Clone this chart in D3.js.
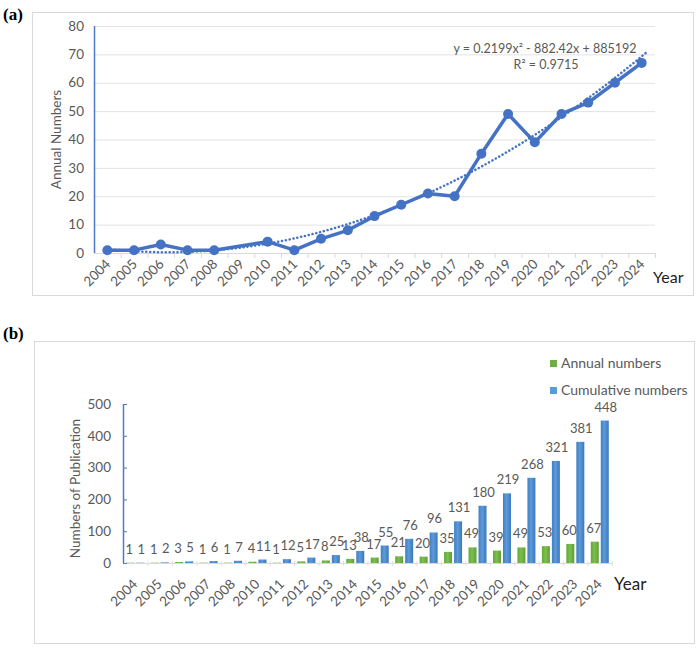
<!DOCTYPE html>
<html>
<head>
<meta charset="utf-8">
<script src="https://cdn.jsdelivr.net/npm/d3@7"></script>
<style>
  html, body { margin: 0; padding: 0; background: #fff; }
  svg { display: block; font-family: Lato, "Open Sans", sans-serif; }
</style>
</head>
<body>
<svg id="chart" width="700" height="650"></svg>
<script>
// ---------- Data ----------
const yearsA = ["2004","2005","2006","2007","2008","2009","2010","2011","2012","2013","2014","2015","2016","2017","2018","2019","2020","2021","2022","2023","2024"];
const annualA = [1,1,3,1,1,null,4,1,5,8,13,17,21,20,35,49,39,49,53,60,67];
const yTicksA = [0,10,20,30,40,50,60,70,80];
const trendEquation = "y = 0.2199x² - 882.42x + 885192";
const trendR2 = "R² = 0.9715";

const yearsB = ["2004","2005","2006","2007","2008","2010","2011","2012","2013","2014","2015","2016","2017","2018","2019","2020","2021","2022","2023","2024"];
const annualB = [1,1,3,1,1,4,1,5,8,13,17,21,20,35,49,39,49,53,60,67];
const cumulativeB = [1,2,5,6,7,11,12,17,25,38,55,76,96,131,180,219,268,321,381,448];
const yTicksB = [0,100,200,300,400,500];
const legendLabels = ["Annual numbers","Cumulative numbers"];

const svg = d3.select("#chart");
const gray = "#595959";
const blue = "#4472c4";

// ---------- Panel labels ----------
svg.append("text").attr("x", 3).attr("y", 20).text("(a)")
  .attr("font-family", "'Liberation Serif', 'Times New Roman', serif").attr("font-weight", "bold").attr("font-size", 17);
svg.append("text").attr("x", 3).attr("y", 339).text("(b)")
  .attr("font-family", "'Liberation Serif', 'Times New Roman', serif").attr("font-weight", "bold").attr("font-size", 17);

// ================= Chart (a) =================
svg.append("rect").attr("x", 32.5).attr("y", 12.5).attr("width", 661).attr("height", 283)
  .attr("fill", "none").attr("stroke", "#d9d9d9");

const xA = d3.scaleBand().domain(yearsA).range([94, 655]);
const yA = d3.scaleLinear().domain([0, 80]).range([253, 26]);
const gA = svg.append("g");

// grid
gA.selectAll("line.grid").data(yTicksA.filter(d => d > 0)).join("line")
  .attr("x1", 94).attr("x2", 655).attr("y1", d => yA(d) + 0.5).attr("y2", d => yA(d) + 0.5)
  .attr("stroke", "#e3e3e3").attr("stroke-width", 1);

// x axis baseline + ticks at band edges
gA.append("line").attr("x1", 94).attr("x2", 655).attr("y1", yA(0) + 0.5).attr("y2", yA(0) + 0.5)
  .attr("stroke", "#d9d9d9");
gA.selectAll("line.xt").data(yearsA).join("line")
  .attr("x1", d => xA(d) + xA.bandwidth() + 0.5)
  .attr("x2", d => xA(d) + xA.bandwidth() + 0.5)
  .attr("y1", yA(0)).attr("y2", yA(0) + 5).attr("stroke", "#d9d9d9");

// y axis line
gA.append("line").attr("x1", 94.5).attr("x2", 94.5).attr("y1", yA(80)).attr("y2", yA(0))
  .attr("stroke", "#4f7ac7").attr("stroke-width", 1.5);

// y tick labels
gA.selectAll("text.yt").data(yTicksA).join("text")
  .attr("x", 84).attr("y", d => yA(d)).attr("dy", "0.35em")
  .attr("text-anchor", "end").attr("font-size", 13.5).attr("fill", gray).text(d => d);

// x tick labels
gA.selectAll("text.xl").data(yearsA).join("text")
  .attr("transform", d => `translate(${xA(d) + xA.bandwidth() / 2 + 4},${yA(0) + 12}) rotate(-45)`)
  .attr("text-anchor", "end").attr("font-size", 13.5).attr("fill", gray).text(d => d);

// y title
gA.append("text").attr("transform", `translate(61,${(yA(0) + yA(80)) / 2}) rotate(-90)`)
  .attr("text-anchor", "middle").attr("font-size", 13.5).attr("fill", gray).text("Annual Numbers");

// Year label
gA.append("text").attr("x", 653).attr("y", 283).attr("font-size", 16).attr("fill", "#222").text("Year");

// quadratic trend (least squares fit on years with data)
const pts = yearsA.map((y, i) => [+y, annualA[i]]).filter(p => p[1] != null);
const x0 = 2014;
let S = [0,0,0,0,0], T = [0,0,0];
pts.forEach(([x, y]) => {
  const t = x - x0;
  for (let k = 0; k < 5; k++) S[k] += Math.pow(t, k);
  for (let k = 0; k < 3; k++) T[k] += y * Math.pow(t, k);
});
function solve3(A, b) {
  const M = A.map((r, i) => r.concat([b[i]]));
  for (let c = 0; c < 3; c++) {
    let p = c;
    for (let r = c + 1; r < 3; r++) if (Math.abs(M[r][c]) > Math.abs(M[p][c])) p = r;
    [M[c], M[p]] = [M[p], M[c]];
    for (let r = 0; r < 3; r++) if (r !== c) {
      const f = M[r][c] / M[c][c];
      for (let k = c; k < 4; k++) M[r][k] -= f * M[c][k];
    }
  }
  return M.map((r, i) => r[3] / r[i]);
}
const coef = solve3([[S[0],S[1],S[2]],[S[1],S[2],S[3]],[S[2],S[3],S[4]]], T);
const fitF = x => coef[0] + coef[1] * (x - x0) + coef[2] * (x - x0) * (x - x0);
const xYear = d3.scaleLinear().domain([2004, 2024])
  .range([xA("2004") + xA.bandwidth() / 2, xA("2024") + xA.bandwidth() / 2]);
const trendPts = d3.range(2004, 2024.2001, 0.05).map(x => [x, Math.max(0, fitF(x))]);
svg.append("clipPath").attr("id", "clipA").append("rect")
  .attr("x", 94).attr("y", 20).attr("width", 570).attr("height", yA(0) - 20 + 1);
gA.append("path").datum(trendPts)
  .attr("clip-path", "url(#clipA)")
  .attr("d", d3.line().x(d => xYear(d[0])).y(d => yA(d[1])))
  .attr("fill", "none").attr("stroke", blue).attr("stroke-width", 2.5)
  .attr("stroke-dasharray", "0.1 3.8").attr("stroke-linecap", "round");

// data line (connect across missing 2009)
const dataA = yearsA.map((y, i) => ({ y, v: annualA[i] })).filter(d => d.v != null);
gA.append("path").datum(dataA)
  .attr("d", d3.line().x(d => xA(d.y) + xA.bandwidth() / 2).y(d => yA(d.v)))
  .attr("fill", "none").attr("stroke", blue).attr("stroke-width", 3.5).attr("stroke-linejoin", "round");
gA.selectAll("circle").data(dataA).join("circle")
  .attr("cx", d => xA(d.y) + xA.bandwidth() / 2).attr("cy", d => yA(d.v)).attr("r", 5)
  .attr("fill", blue);

// equation
gA.append("text").attr("x", 545).attr("y", 53).attr("text-anchor", "middle")
  .attr("font-size", 12.5).attr("fill", gray).text(trendEquation);
gA.append("text").attr("x", 546).attr("y", 69).attr("text-anchor", "middle")
  .attr("font-size", 12.5).attr("fill", gray).text(trendR2);

// ================= Chart (b) =================
svg.append("rect").attr("x", 34.5).attr("y", 341.5).attr("width", 660).attr("height", 302)
  .attr("fill", "none").attr("stroke", "#d9d9d9");

const defs = svg.append("defs");
const gb = defs.append("linearGradient").attr("id", "gBlue").attr("x1", 0).attr("x2", 1).attr("y1", 0).attr("y2", 0);
gb.append("stop").attr("offset", "0%").attr("stop-color", "#3f7fc4");
gb.append("stop").attr("offset", "45%").attr("stop-color", "#5d9ad8");
gb.append("stop").attr("offset", "100%").attr("stop-color", "#3a78bf");
const gg = defs.append("linearGradient").attr("id", "gGreen").attr("x1", 0).attr("x2", 1).attr("y1", 0).attr("y2", 0);
gg.append("stop").attr("offset", "0%").attr("stop-color", "#62a83a");
gg.append("stop").attr("offset", "45%").attr("stop-color", "#7cbf4e");
gg.append("stop").attr("offset", "100%").attr("stop-color", "#5e9f35");

const xB = d3.scaleBand().domain(yearsB).range([123, 612]);
const yB = d3.scaleLinear().domain([0, 500]).range([563, 404]);
const gB = svg.append("g");
const barW = 8;

// baseline
gB.append("line").attr("x1", 123).attr("x2", 612).attr("y1", yB(0) + 0.5).attr("y2", yB(0) + 0.5)
  .attr("stroke", "#d9d9d9");
gB.selectAll("line.xt").data(yearsB).join("line")
  .attr("x1", d => xB(d) + xB.bandwidth() + 0.5).attr("x2", d => xB(d) + xB.bandwidth() + 0.5)
  .attr("y1", yB(0) - 2).attr("y2", yB(0) + 3).attr("stroke", "#e0e0e0");

// y axis
gB.append("line").attr("x1", 123.5).attr("x2", 123.5).attr("y1", yB(500)).attr("y2", yB(0))
  .attr("stroke", "#4f7ac7").attr("stroke-width", 1.5);
gB.selectAll("line.yt").data(yTicksB).join("line")
  .attr("x1", 123).attr("x2", 127).attr("y1", d => yB(d) + 0.5).attr("y2", d => yB(d) + 0.5)
  .attr("stroke", "#4f7ac7");
gB.selectAll("text.yt").data(yTicksB).join("text")
  .attr("x", 111).attr("y", d => yB(d)).attr("dy", "0.35em").attr("text-anchor", "end")
  .attr("font-size", 13.5).attr("fill", gray).text(d => d);

gB.append("text").attr("transform", `translate(80,${(yB(0) + yB(500)) / 2 + 5}) rotate(-90)`)
  .attr("text-anchor", "middle").attr("font-size", 13.5).attr("fill", gray).text("Numbers of Publication");

// bars
const cx = d => xB(d) + xB.bandwidth() / 2;
gB.selectAll("rect.ann").data(yearsB).join("rect")
  .attr("x", d => cx(d) - 9).attr("width", barW)
  .attr("y", (d, i) => yB(annualB[i])).attr("height", (d, i) => yB(0) - yB(annualB[i]))
  .attr("fill", "url(#gGreen)");
gB.selectAll("rect.cum").data(yearsB).join("rect")
  .attr("x", d => cx(d) + 1).attr("width", barW)
  .attr("y", (d, i) => yB(cumulativeB[i])).attr("height", (d, i) => yB(0) - yB(cumulativeB[i]))
  .attr("fill", "url(#gBlue)");

// bar labels
gB.selectAll("text.la").data(yearsB).join("text")
  .attr("x", d => cx(d) - 6).attr("y", (d, i) => yB(annualB[i]) - 9)
  .attr("text-anchor", "middle").attr("font-size", 13).attr("fill", gray).text((d, i) => annualB[i]);
gB.selectAll("text.lc").data(yearsB).join("text")
  .attr("x", d => cx(d) + 6).attr("y", (d, i) => yB(cumulativeB[i]) - 9)
  .attr("text-anchor", "middle").attr("font-size", 13).attr("fill", gray).text((d, i) => cumulativeB[i]);

// x labels
gB.selectAll("text.xl").data(yearsB).join("text")
  .attr("transform", d => `translate(${cx(d) + 3},${yB(0) + 22}) rotate(-45)`)
  .attr("text-anchor", "end").attr("font-size", 13.5).attr("fill", gray).text(d => d);

gB.append("text").attr("x", 614).attr("y", 590).attr("font-size", 17).attr("fill", "#222").text("Year");

// legend
const legColors = ["#70ad47", "#5b9bd5"];
const lg = gB.selectAll("g.leg").data(legendLabels).join("g")
  .attr("transform", (d, i) => `translate(550,${360 + i * 27})`);
lg.append("rect").attr("width", 7).attr("height", 7).attr("fill", (d, i) => legColors[i]);
lg.append("text").attr("x", 11).attr("y", 8).attr("font-size", 14).attr("fill", gray).text(d => d);
</script>
</body>
</html>
